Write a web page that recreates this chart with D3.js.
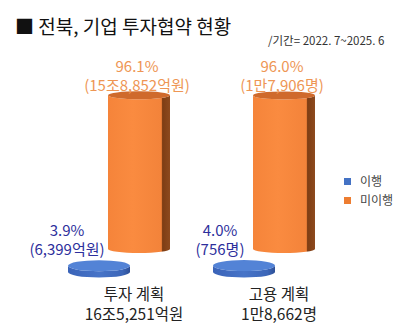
<!DOCTYPE html>
<html><head><meta charset="utf-8">
<script src="https://cdn.jsdelivr.net/npm/d3@7"></script>
<style>
html,body{margin:0;padding:0;background:#fff;}
svg{display:block;font-family:"Noto Sans CJK KR","Noto Sans",sans-serif;}
</style></head>
<body><svg id="c" width="416" height="332"></svg>
<script>
const categories = ["투자 계획", "고용 계획"];
const totals = ["16조5,251억원", "1만8,662명"];
const seriesNames = ["이행", "미이행"];
const implemented = [3.9, 4.0];
const notImplemented = [96.1, 96.0];
const implementedLabels = ["(6,399억원)", "(756명)"];
const notImplementedLabels = ["(15조8,852억원)", "(1만7,906명)"];
const title = "■ 전북, 기업 투자협약 현황";
const subtitle = "/기간= 2022. 7~2025. 6";

const svg = d3.select("#c");
const defs = svg.append("defs");

function grad(id, stops){
  const g = defs.append("linearGradient").attr("id", id).attr("x1","0").attr("x2","1").attr("y1","0").attr("y2","0");
  stops.forEach(s => g.append("stop").attr("offset", s[0]).attr("stop-color", s[1]));
}
grad("gOrange", [["0%","#F5843A"],["40%","#FA8B40"],["86%","#F3833A"],["88%","#7E3D14"],["100%","#8E4A1E"]]);
grad("gBlue", [["0%","#3A63B8"],["50%","#4774C8"],["88%","#3C66B8"],["100%","#2D4F96"]]);

// scales
const xBack = d3.scalePoint().domain(categories).range([139, 284]);
const frontShift = -40;
const yBack = d3.scaleLinear().domain([0, 100]).range([249, 89]);
const yFront = d3.scaleLinear().domain([0, 100]).range([272, 112]);
const barW = 62;

function cylinder(g, cx, yTop, yBase, ry, bodyFill, topFill){
  const l = cx - barW/2, r = cx + barW/2, rx = barW/2;
  g.append("path")
    .attr("d", `M${l},${yTop} L${l},${yBase} A${rx},${ry} 0 0 0 ${r},${yBase} L${r},${yTop} A${rx},${ry} 0 0 1 ${l},${yTop} Z`)
    .attr("fill", bodyFill);
  g.append("ellipse").attr("cx", cx).attr("cy", yTop).attr("rx", rx).attr("ry", ry).attr("fill", topFill);
}

// back row: 미이행 (orange)
const back = svg.append("g");
categories.forEach((c, i) => {
  cylinder(back, xBack(c), yBack(notImplemented[i]), yBack(0), 4, "url(#gOrange)", "#CF6A2C");
});
// front row: 이행 (blue)
const front = svg.append("g");
categories.forEach((c, i) => {
  cylinder(front, xBack(c) + frontShift, yFront(implemented[i]), yFront(0), 5.5, "url(#gBlue)", "#5383D6");
});

// orange labels
categories.forEach((c, i) => {
  const y = yBack(notImplemented[i]);
  const g = svg.append("g").attr("text-anchor", "middle").attr("fill", "#EE9654").attr("font-size", 15);
  g.append("text").attr("x", xBack(c) - 2).attr("y", y - 23).text(notImplemented[i].toFixed(1) + "%");
  g.append("text").attr("x", xBack(c) - 2).attr("y", y - 4).text(notImplementedLabels[i]);
});
// blue labels
categories.forEach((c, i) => {
  const y = yFront(implemented[i]);
  const cx = xBack(c) + frontShift - (i === 0 ? 32 : 24);
  const g = svg.append("g").attr("text-anchor", "middle").attr("fill", "#2D2F9C").attr("font-size", 15);
  g.append("text").attr("x", cx).attr("y", y - 30).text(implemented[i].toFixed(1) + "%");
  g.append("text").attr("x", cx).attr("y", y - 11).text(implementedLabels[i]);
});

// category labels
categories.forEach((c, i) => {
  const g = svg.append("g").attr("text-anchor", "middle").attr("fill", "#222").attr("font-size", 15.5);
  g.append("text").attr("x", xBack(c) - 5).attr("y", 300).text(c);
  g.append("text").attr("x", xBack(c) - 5).attr("y", 320).text(totals[i]);
});

// title
svg.append("text").attr("x", 15).attr("y", 34).attr("font-size", 19).attr("fill", "#111").text(title);
svg.append("text").attr("x", 268).attr("y", 45).attr("font-size", 11.5).attr("fill", "#333").text(subtitle);

// legend
const colors = ["#4472C4", "#ED7D31"];
const lg = svg.append("g").attr("transform", "translate(344,178)");
seriesNames.forEach((s, i) => {
  lg.append("rect").attr("x", 0).attr("y", i * 19).attr("width", 7).attr("height", 7).attr("fill", colors[i]);
  lg.append("text").attr("x", 16).attr("y", i * 19 + 8).attr("font-size", 12).attr("fill", "#444").text(s);
});
</script></body></html>
